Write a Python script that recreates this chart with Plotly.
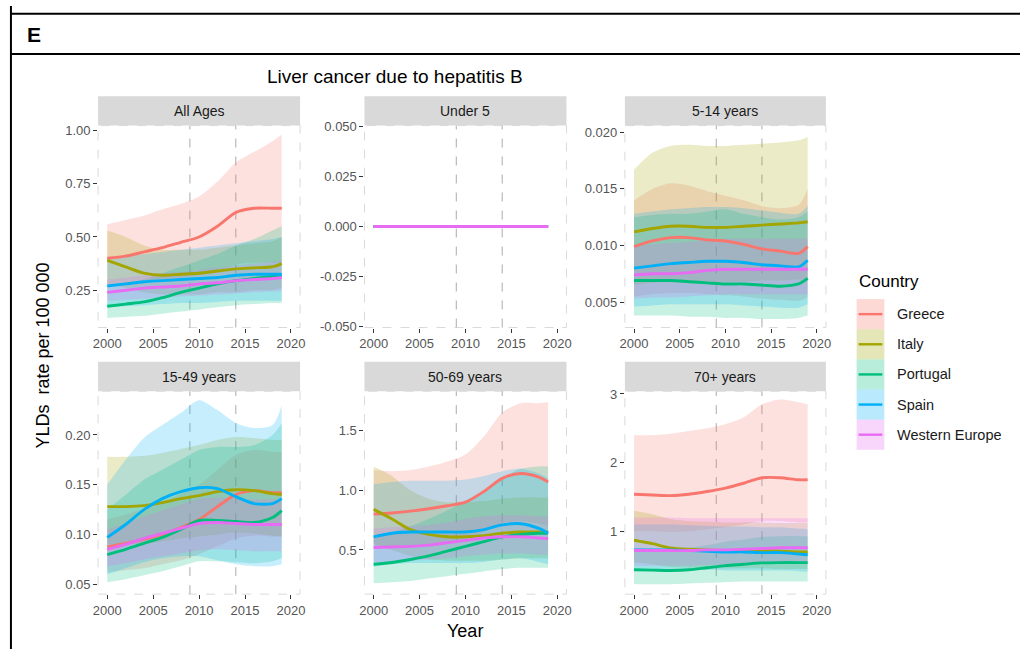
import plotly.graph_objects as go

W, H = 1025, 656
FONT = "Liberation Sans, Arial, sans-serif"

years = [2000, 2002, 2004, 2006, 2008, 2010, 2012, 2014, 2016, 2018, 2019]
countries = ["Greece", "Italy", "Portugal", "Spain", "Western Europe"]
panel_titles = ["All Ages", "Under 5", "5-14 years", "15-49 years", "50-69 years", "70+ years"]
x_ticks = [2000, 2005, 2010, 2015, 2020]
ref_years = [2009, 2014]

# ---- All Ages ----
all_greece = [0.40, 0.41, 0.43, 0.45, 0.475, 0.50, 0.55, 0.615, 0.635, 0.635, 0.635]
all_greece_lo = [0.27, 0.28, 0.29, 0.30, 0.31, 0.32, 0.34, 0.37, 0.38, 0.38, 0.38]
all_greece_hi = [0.56, 0.58, 0.60, 0.63, 0.655, 0.69, 0.76, 0.85, 0.90, 0.95, 0.98]
all_italy = [0.39, 0.36, 0.33, 0.32, 0.325, 0.33, 0.34, 0.35, 0.355, 0.36, 0.375]
all_italy_lo = [0.28, 0.26, 0.24, 0.23, 0.23, 0.23, 0.24, 0.24, 0.25, 0.25, 0.26]
all_italy_hi = [0.53, 0.50, 0.46, 0.44, 0.44, 0.44, 0.45, 0.46, 0.47, 0.48, 0.50]
all_portugal = [0.175, 0.185, 0.195, 0.215, 0.24, 0.26, 0.28, 0.295, 0.305, 0.315, 0.32]
all_portugal_lo = [0.12, 0.125, 0.13, 0.14, 0.15, 0.16, 0.17, 0.18, 0.185, 0.19, 0.19]
all_portugal_hi = [0.26, 0.28, 0.30, 0.33, 0.36, 0.39, 0.42, 0.46, 0.49, 0.53, 0.55]
all_spain = [0.27, 0.28, 0.29, 0.295, 0.30, 0.305, 0.31, 0.32, 0.325, 0.325, 0.325]
all_spain_lo = [0.17, 0.175, 0.18, 0.185, 0.19, 0.19, 0.195, 0.20, 0.20, 0.20, 0.20]
all_spain_hi = [0.40, 0.41, 0.42, 0.43, 0.44, 0.45, 0.46, 0.47, 0.48, 0.49, 0.50]
all_weu = [0.24, 0.25, 0.26, 0.265, 0.27, 0.28, 0.285, 0.295, 0.30, 0.305, 0.31]
all_weu_lo = [0.20, 0.205, 0.21, 0.215, 0.22, 0.225, 0.23, 0.235, 0.24, 0.245, 0.245]
all_weu_hi = [0.30, 0.31, 0.32, 0.33, 0.335, 0.345, 0.355, 0.365, 0.375, 0.385, 0.39]

# ---- Under 5 (no burden recorded) ----
u5_rate = [0.0, 0.0, 0.0, 0.0, 0.0, 0.0, 0.0, 0.0, 0.0, 0.0, 0.0]

# ---- 5-14 years ----
c514_greece = [0.0099, 0.0104, 0.0107, 0.0107, 0.0105, 0.0104, 0.0101, 0.0097, 0.0095, 0.0093, 0.0099]
c514_greece_lo = [0.0055, 0.0057, 0.0058, 0.0058, 0.0057, 0.0056, 0.0055, 0.0053, 0.0052, 0.0051, 0.0054]
c514_greece_hi = [0.0140, 0.0150, 0.0155, 0.0153, 0.0148, 0.0144, 0.0140, 0.0135, 0.0133, 0.0136, 0.0150]
c514_italy = [0.0112, 0.0115, 0.0117, 0.0117, 0.0116, 0.0116, 0.0117, 0.0118, 0.0119, 0.0120, 0.0121]
c514_italy_lo = [0.0065, 0.0067, 0.0068, 0.0068, 0.0068, 0.0068, 0.0068, 0.0069, 0.0069, 0.0070, 0.0070]
c514_italy_hi = [0.0167, 0.0182, 0.0188, 0.0189, 0.0188, 0.0188, 0.0189, 0.0190, 0.0191, 0.0193, 0.0196]
c514_portugal = [0.0069, 0.0069, 0.0069, 0.0068, 0.0067, 0.0066, 0.0066, 0.0065, 0.0064, 0.0066, 0.0071]
c514_portugal_lo = [0.0038, 0.0038, 0.0038, 0.0037, 0.0037, 0.0036, 0.0036, 0.0035, 0.0035, 0.0036, 0.0038]
c514_portugal_hi = [0.0125, 0.0127, 0.0128, 0.0128, 0.0130, 0.0132, 0.0128, 0.0125, 0.0123, 0.0125, 0.0130]
c514_spain = [0.0080, 0.0082, 0.0084, 0.0085, 0.0086, 0.0086, 0.0085, 0.0083, 0.0082, 0.0081, 0.0087]
c514_spain_lo = [0.0046, 0.0047, 0.0048, 0.0048, 0.0048, 0.0048, 0.0047, 0.0046, 0.0045, 0.0045, 0.0048]
c514_spain_hi = [0.0128, 0.0130, 0.0132, 0.0133, 0.0134, 0.0134, 0.0133, 0.0131, 0.0129, 0.0128, 0.0135]
c514_weu = [0.0074, 0.0075, 0.0075, 0.0076, 0.0078, 0.0079, 0.0079, 0.0079, 0.0079, 0.0079, 0.0079]
c514_weu_lo = [0.0053, 0.0054, 0.0054, 0.0055, 0.0056, 0.0057, 0.0057, 0.0057, 0.0057, 0.0057, 0.0057]
c514_weu_hi = [0.0100, 0.0101, 0.0102, 0.0103, 0.0105, 0.0106, 0.0106, 0.0106, 0.0106, 0.0106, 0.0106]

# ---- 15-49 years ----
a1549_greece = [0.0875, 0.091, 0.095, 0.100, 0.107, 0.115, 0.128, 0.140, 0.144, 0.142, 0.142]
a1549_greece_lo = [0.062, 0.064, 0.066, 0.070, 0.074, 0.080, 0.088, 0.096, 0.099, 0.098, 0.098]
a1549_greece_hi = [0.115, 0.120, 0.126, 0.133, 0.141, 0.150, 0.165, 0.180, 0.185, 0.183, 0.183]
a1549_italy = [0.128, 0.128, 0.129, 0.132, 0.136, 0.139, 0.143, 0.145, 0.144, 0.141, 0.140]
a1549_italy_lo = [0.090, 0.090, 0.091, 0.093, 0.096, 0.098, 0.100, 0.102, 0.101, 0.099, 0.098]
a1549_italy_hi = [0.178, 0.178, 0.179, 0.182, 0.186, 0.190, 0.195, 0.198, 0.197, 0.195, 0.195]
a1549_portugal = [0.0796, 0.085, 0.091, 0.097, 0.105, 0.114, 0.114, 0.113, 0.112, 0.117, 0.124]
a1549_portugal_lo = [0.052, 0.055, 0.059, 0.063, 0.068, 0.073, 0.073, 0.072, 0.071, 0.073, 0.076]
a1549_portugal_hi = [0.125, 0.140, 0.155, 0.165, 0.175, 0.185, 0.188, 0.188, 0.190, 0.200, 0.212]
a1549_spain = [0.097, 0.110, 0.125, 0.136, 0.143, 0.147, 0.146, 0.138, 0.131, 0.131, 0.136]
a1549_spain_lo = [0.060, 0.066, 0.072, 0.076, 0.078, 0.078, 0.074, 0.070, 0.068, 0.068, 0.070]
a1549_spain_hi = [0.150, 0.175, 0.197, 0.210, 0.222, 0.235, 0.225, 0.212, 0.207, 0.210, 0.230]
a1549_weu = [0.085, 0.090, 0.096, 0.101, 0.106, 0.111, 0.112, 0.111, 0.110, 0.110, 0.110]
a1549_weu_lo = [0.068, 0.071, 0.075, 0.078, 0.081, 0.084, 0.085, 0.084, 0.083, 0.083, 0.083]
a1549_weu_hi = [0.105, 0.111, 0.118, 0.124, 0.130, 0.136, 0.137, 0.136, 0.135, 0.135, 0.135]

# ---- 50-69 years ----
a5069_greece = [0.80, 0.81, 0.825, 0.845, 0.87, 0.90, 0.99, 1.10, 1.14, 1.11, 1.07]
a5069_greece_lo = [0.52, 0.53, 0.54, 0.55, 0.57, 0.59, 0.65, 0.72, 0.74, 0.72, 0.70]
a5069_greece_hi = [1.17, 1.16, 1.17, 1.20, 1.24, 1.30, 1.45, 1.65, 1.73, 1.73, 1.74]
a5069_italy = [0.84, 0.76, 0.67, 0.63, 0.61, 0.61, 0.62, 0.64, 0.65, 0.65, 0.65]
a5069_italy_lo = [0.55, 0.50, 0.45, 0.42, 0.41, 0.41, 0.41, 0.42, 0.43, 0.43, 0.43]
a5069_italy_hi = [1.20, 1.12, 1.00, 0.93, 0.90, 0.90, 0.91, 0.93, 0.94, 0.94, 0.94]
a5069_portugal = [0.38, 0.395, 0.42, 0.45, 0.49, 0.53, 0.57, 0.61, 0.63, 0.64, 0.64]
a5069_portugal_lo = [0.22, 0.23, 0.24, 0.26, 0.28, 0.30, 0.32, 0.34, 0.35, 0.35, 0.35]
a5069_portugal_hi = [0.62, 0.65, 0.70, 0.76, 0.83, 0.91, 1.00, 1.10, 1.18, 1.20, 1.20]
a5069_spain = [0.61, 0.64, 0.65, 0.65, 0.65, 0.65, 0.67, 0.71, 0.72, 0.68, 0.64]
a5069_spain_lo = [0.36, 0.38, 0.39, 0.39, 0.39, 0.39, 0.40, 0.42, 0.43, 0.40, 0.38]
a5069_spain_hi = [1.05, 1.07, 1.08, 1.08, 1.08, 1.09, 1.12, 1.16, 1.18, 1.14, 1.10]
a5069_weu = [0.52, 0.525, 0.53, 0.54, 0.56, 0.58, 0.60, 0.61, 0.61, 0.60, 0.595]
a5069_weu_lo = [0.40, 0.40, 0.41, 0.42, 0.43, 0.45, 0.46, 0.47, 0.47, 0.46, 0.46]
a5069_weu_hi = [0.68, 0.69, 0.70, 0.71, 0.73, 0.76, 0.78, 0.79, 0.79, 0.78, 0.78]

# ---- 70+ years ----
a70_greece = [1.54, 1.53, 1.52, 1.54, 1.58, 1.63, 1.70, 1.78, 1.78, 1.75, 1.75]
a70_greece_lo = [1.00, 1.00, 0.99, 1.00, 1.03, 1.06, 1.10, 1.15, 1.15, 1.13, 1.13]
a70_greece_hi = [2.40, 2.40, 2.42, 2.46, 2.50, 2.56, 2.66, 2.85, 2.92, 2.88, 2.85]
a70_italy = [0.87, 0.82, 0.76, 0.74, 0.73, 0.72, 0.72, 0.72, 0.71, 0.70, 0.70]
a70_italy_lo = [0.55, 0.52, 0.48, 0.47, 0.46, 0.46, 0.46, 0.46, 0.45, 0.45, 0.45]
a70_italy_hi = [1.30, 1.25, 1.18, 1.15, 1.14, 1.13, 1.13, 1.13, 1.12, 1.12, 1.12]
a70_portugal = [0.44, 0.435, 0.43, 0.44, 0.47, 0.50, 0.52, 0.54, 0.545, 0.545, 0.545]
a70_portugal_lo = [0.23, 0.23, 0.23, 0.24, 0.25, 0.26, 0.27, 0.27, 0.27, 0.27, 0.27]
a70_portugal_hi = [0.75, 0.75, 0.74, 0.76, 0.80, 0.85, 0.88, 0.92, 0.93, 0.93, 0.93]
a70_spain = [0.73, 0.73, 0.73, 0.72, 0.71, 0.70, 0.70, 0.69, 0.69, 0.67, 0.66]
a70_spain_lo = [0.45, 0.45, 0.45, 0.44, 0.44, 0.43, 0.43, 0.43, 0.43, 0.42, 0.41]
a70_spain_hi = [1.10, 1.10, 1.10, 1.09, 1.08, 1.07, 1.07, 1.06, 1.06, 1.04, 1.03]
a70_weu = [0.72, 0.72, 0.72, 0.72, 0.73, 0.73, 0.74, 0.75, 0.76, 0.76, 0.76]
a70_weu_lo = [0.50, 0.50, 0.50, 0.50, 0.51, 0.51, 0.52, 0.53, 0.53, 0.53, 0.53]
a70_weu_hi = [1.20, 1.20, 1.20, 1.19, 1.19, 1.19, 1.19, 1.19, 1.19, 1.19, 1.19]

# y-axis ticks per panel
yticks_all = [0.25, 0.50, 0.75, 1.00]
yticks_u5 = [-0.050, -0.025, 0.000, 0.025, 0.050]
yticks_514 = [0.005, 0.010, 0.015, 0.020]
yticks_1549 = [0.05, 0.10, 0.15, 0.20]
yticks_5069 = [0.5, 1.0, 1.5]
yticks_70 = [1, 2, 3]

colors = ["#F8766D", "#A3A500", "#00BF7D", "#00B0F6", "#E76BF3"]


def rgba(hex_color, a):
    h = hex_color.lstrip("#")
    r, g, b = int(h[0:2], 16), int(h[2:4], 16), int(h[4:6], 16)
    return f"rgba({r},{g},{b},{a})"


panel_series = [
    [(all_greece, all_greece_lo, all_greece_hi), (all_italy, all_italy_lo, all_italy_hi),
     (all_portugal, all_portugal_lo, all_portugal_hi), (all_spain, all_spain_lo, all_spain_hi),
     (all_weu, all_weu_lo, all_weu_hi)],
    [(u5_rate, u5_rate, u5_rate)] * 5,
    [(c514_greece, c514_greece_lo, c514_greece_hi), (c514_italy, c514_italy_lo, c514_italy_hi),
     (c514_portugal, c514_portugal_lo, c514_portugal_hi), (c514_spain, c514_spain_lo, c514_spain_hi),
     (c514_weu, c514_weu_lo, c514_weu_hi)],
    [(a1549_greece, a1549_greece_lo, a1549_greece_hi), (a1549_italy, a1549_italy_lo, a1549_italy_hi),
     (a1549_portugal, a1549_portugal_lo, a1549_portugal_hi), (a1549_spain, a1549_spain_lo, a1549_spain_hi),
     (a1549_weu, a1549_weu_lo, a1549_weu_hi)],
    [(a5069_greece, a5069_greece_lo, a5069_greece_hi), (a5069_italy, a5069_italy_lo, a5069_italy_hi),
     (a5069_portugal, a5069_portugal_lo, a5069_portugal_hi), (a5069_spain, a5069_spain_lo, a5069_spain_hi),
     (a5069_weu, a5069_weu_lo, a5069_weu_hi)],
    [(a70_greece, a70_greece_lo, a70_greece_hi), (a70_italy, a70_italy_lo, a70_italy_hi),
     (a70_portugal, a70_portugal_lo, a70_portugal_hi), (a70_spain, a70_spain_lo, a70_spain_hi),
     (a70_weu, a70_weu_lo, a70_weu_hi)],
]

panel_ticks = [
    (yticks_all, ["0.25", "0.50", "0.75", "1.00"], [0.075, 1.023]),
    (yticks_u5, ["-0.050", "-0.025", "0.000", "0.025", "0.050"], [-0.0505, 0.0505]),
    (yticks_514, ["0.005", "0.010", "0.015", "0.020"], [0.00275, 0.0206]),
    (yticks_1549, ["0.05", "0.10", "0.15", "0.20"], [0.040, 0.244]),
    (yticks_5069, ["0.5", "1.0", "1.5"], [0.13, 1.83]),
    (yticks_70, ["1", "2", "3"], [0.086, 3.04]),
]


def px(x):
    return x / W


def py(y):
    return 1 - y / H


col_px = [(94, 298), (363, 567), (626, 829)]
row_px = [(122, 328), (393, 600)]
STRIP_H = 30

fig = go.Figure()
layout = {}
shapes = []
annotations = []

for i in range(6):
    r, c = divmod(i, 3)
    xa = "x" if i == 0 else f"x{i + 1}"
    ya = "y" if i == 0 else f"y{i + 1}"
    series = panel_series[i]

    # ribbons first, then lines (ggplot layer order)
    for k, (mean, lo, hi) in enumerate(series):
        fig.add_trace(go.Scatter(x=years, y=lo, xaxis=xa, yaxis=ya, mode="lines",
                                 line=dict(width=0, shape="spline", smoothing=0.8),
                                 showlegend=False, hoverinfo="skip"))
        fig.add_trace(go.Scatter(x=years, y=hi, xaxis=xa, yaxis=ya, mode="lines",
                                 line=dict(width=0, shape="spline", smoothing=0.8),
                                 fill="tonexty", fillcolor=rgba(colors[k], 0.22),
                                 showlegend=False, hoverinfo="skip"))
    for k, (mean, lo, hi) in enumerate(series):
        fig.add_trace(go.Scatter(x=years, y=mean, xaxis=xa, yaxis=ya, mode="lines",
                                 line=dict(width=2.9, color=colors[k], shape="spline", smoothing=0.8),
                                 name=countries[k], showlegend=False))

    tickvals, ticktext, yr = panel_ticks[i]
    x0, x1 = col_px[c]
    y0, y1 = row_px[r]
    axis_common = dict(showgrid=False, zeroline=False, showline=False, ticks="outside",
                       ticklen=4, tickwidth=1, tickcolor="#333333",
                       tickfont=dict(family=FONT, size=13, color="#555555"))
    layout["xaxis" if i == 0 else f"xaxis{i + 1}"] = dict(
        domain=[px(x0), px(x1)], anchor=ya, range=[1999, 2021],
        tickvals=x_ticks, ticktext=[str(v) for v in x_ticks], **axis_common)
    layout["yaxis" if i == 0 else f"yaxis{i + 1}"] = dict(
        domain=[py(y1), py(y0)], anchor=xa, range=yr,
        tickvals=tickvals, ticktext=ticktext, **axis_common)

    # dashed panel border
    shapes.append(dict(type="rect", xref=f"{xa} domain", yref=f"{ya} domain",
                       x0=0, x1=1, y0=0, y1=1, layer="below",
                       line=dict(color="#DADADA", width=1, dash="dash")))
    # reference years
    for ry in ref_years:
        shapes.append(dict(type="line", xref=xa, yref=f"{ya} domain", x0=ry, x1=ry,
                           y0=0, y1=1, layer="below",
                           line=dict(color="#ABABAB", width=1, dash="dash")))
    # facet strip
    shapes.append(dict(type="rect", xref="paper", yref="paper",
                       x0=px(x0), x1=px(x1), y0=py(y0), y1=py(y0 - STRIP_H),
                       fillcolor="#D9D9D9", line=dict(width=0), layer="below"))
    annotations.append(dict(x=px((x0 + x1) / 2), y=py(y0 - STRIP_H / 2), xref="paper", yref="paper",
                            text=panel_titles[i], showarrow=False, xanchor="center", yanchor="middle",
                            font=dict(family=FONT, size=14, color="#1A1A1A")))

# outer frame and panel letter
shapes.append(dict(type="line", xref="paper", yref="paper", x0=px(6), x1=px(6), y0=0, y1=1,
                   line=dict(color="black", width=2)))
for yl in (8, 49):
    shapes.append(dict(type="line", xref="paper", yref="paper", x0=px(6), x1=1, y0=py(yl), y1=py(yl),
                       line=dict(color="black", width=2)))
annotations.append(dict(x=px(20), y=py(29), xref="paper", yref="paper", text="<b>E</b>",
                        showarrow=False, xanchor="left", yanchor="middle",
                        font=dict(family=FONT, size=21, color="black")))

# plot title and axis titles
annotations.append(dict(x=px(394), y=py(72), xref="paper", yref="paper",
                        text="Liver cancer due to hepatitis B", showarrow=False,
                        xanchor="center", yanchor="middle",
                        font=dict(family=FONT, size=19, color="black")))
annotations.append(dict(x=px(465), y=py(638), xref="paper", yref="paper", text="Year",
                        showarrow=False, xanchor="center", yanchor="middle",
                        font=dict(family=FONT, size=18, color="black")))
annotations.append(dict(x=px(38), y=py(357), xref="paper", yref="paper",
                        text="YLDs\u00a0 rate per 100 000", textangle=-90, showarrow=False,
                        xanchor="center", yanchor="middle",
                        font=dict(family=FONT, size=18, color="black")))

# legend drawn as keys
annotations.append(dict(x=px(860), y=py(281), xref="paper", yref="paper", text="Country",
                        showarrow=False, xanchor="left", yanchor="middle",
                        font=dict(family=FONT, size=17, color="black")))
KEY_TOP, KEY_H = 299, 30.75
for k, name in enumerate(countries):
    ky0 = KEY_TOP + k * KEY_H
    kc = ky0 + KEY_H / 2
    shapes.append(dict(type="rect", xref="paper", yref="paper", x0=px(860), x1=px(888),
                       y0=py(ky0 + KEY_H), y1=py(ky0), fillcolor=rgba(colors[k], 0.28),
                       line=dict(width=0)))
    shapes.append(dict(type="line", xref="paper", yref="paper", x0=px(862), x1=px(886),
                       y0=py(kc), y1=py(kc), line=dict(color=colors[k], width=2.4)))
    annotations.append(dict(x=px(899), y=py(kc), xref="paper", yref="paper", text=name,
                            showarrow=False, xanchor="left", yanchor="middle",
                            font=dict(family=FONT, size=14.5, color="#1A1A1A")))

fig.update_layout(
    width=W, height=H, margin=dict(l=0, r=0, t=0, b=0),
    paper_bgcolor="white", plot_bgcolor="rgba(0,0,0,0)",
    showlegend=False, shapes=shapes, annotations=annotations,
    font=dict(family=FONT), **layout,
)

fig.write_html("out.html")
